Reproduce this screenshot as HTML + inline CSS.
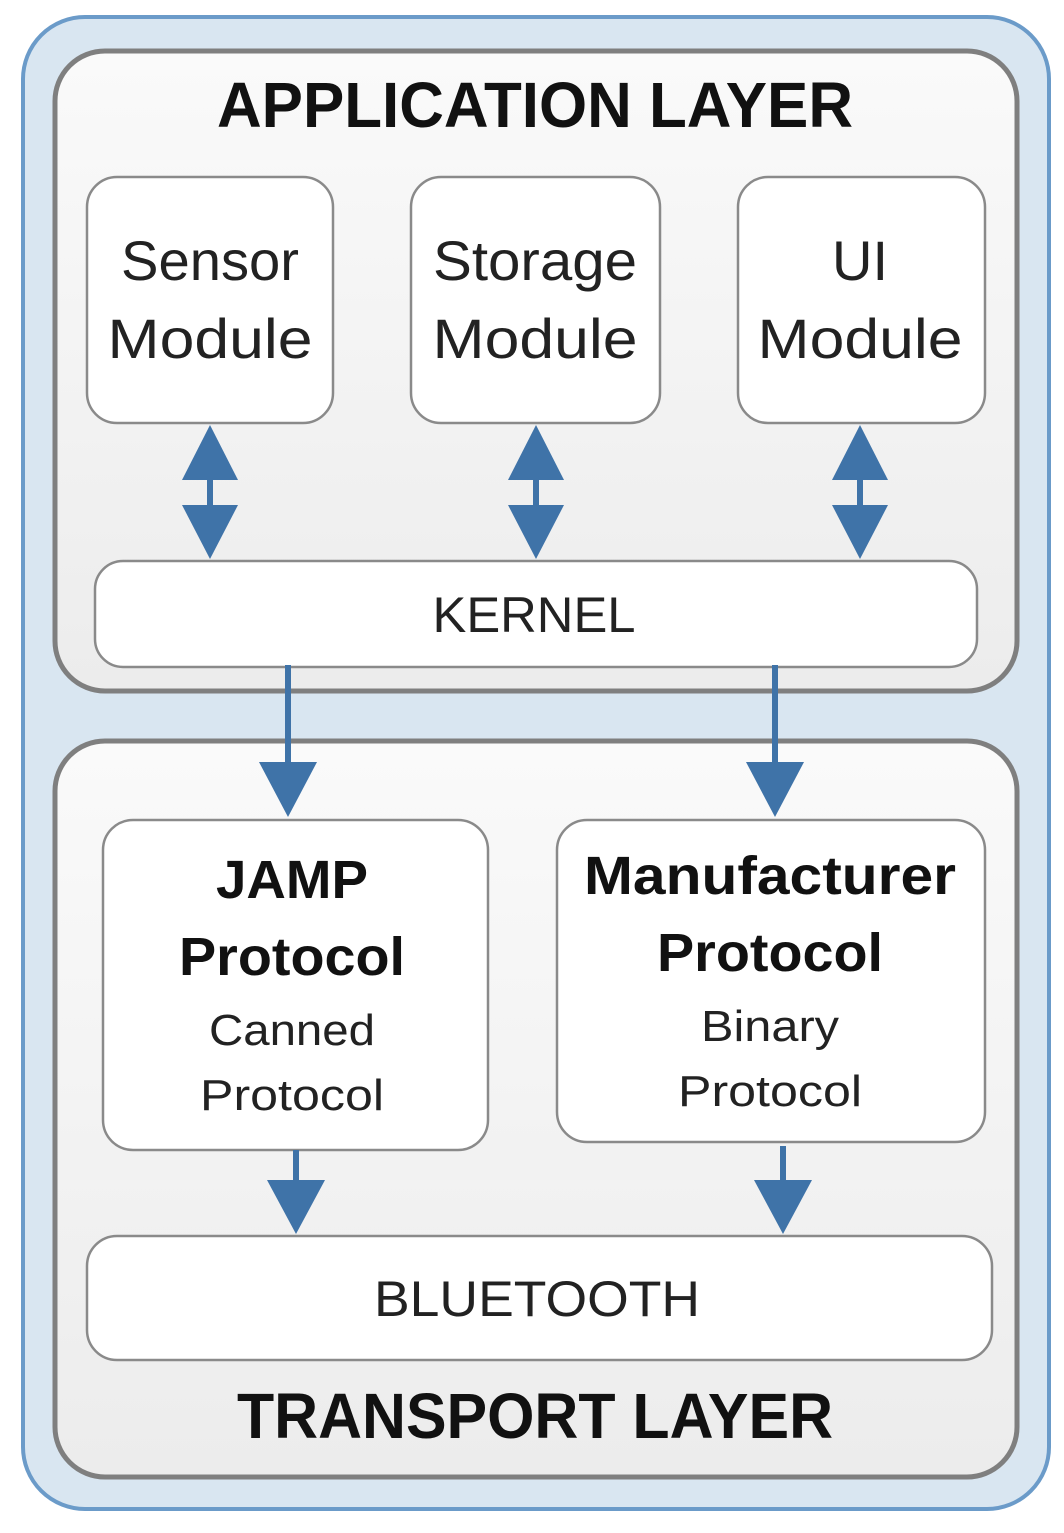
<!DOCTYPE html>
<html><head><style>body{margin:0;background:#fff}svg{display:block}</style></head><body>
<svg width="1064" height="1533" viewBox="0 0 1064 1533" xmlns="http://www.w3.org/2000/svg" font-family="Liberation Sans, sans-serif">
<defs>
<linearGradient id="g" x1="0" y1="0" x2="0" y2="1"><stop offset="0" stop-color="#fafafa"/><stop offset="1" stop-color="#ececec"/></linearGradient>
</defs>
<rect x="23" y="17" width="1026" height="1492" rx="62" fill="#d9e6f1" stroke="#6b9bc9" stroke-width="4"/>
<rect x="55" y="51" width="962" height="640" rx="50" fill="url(#g)" stroke="#7f7f7f" stroke-width="5"/>
<rect x="55" y="741" width="962" height="736" rx="50" fill="url(#g)" stroke="#7f7f7f" stroke-width="5"/>
<g font-weight="bold" fill="#111">
<text x="535" y="127" font-size="64" text-anchor="middle" textLength="636" lengthAdjust="spacingAndGlyphs">APPLICATION LAYER</text>
<text x="535" y="1438" font-size="64" text-anchor="middle" textLength="596" lengthAdjust="spacingAndGlyphs">TRANSPORT LAYER</text>
</g>
<g fill="#fff" stroke="#8a8a8a" stroke-width="2.5">
<rect x="87" y="177" width="246" height="246" rx="30"/>
<rect x="411" y="177" width="249" height="246" rx="30"/>
<rect x="738" y="177" width="247" height="246" rx="30"/>
<rect x="95" y="561" width="882" height="106" rx="28"/>
<rect x="103" y="820" width="385" height="330" rx="30"/>
<rect x="557" y="820" width="428" height="322" rx="30"/>
<rect x="87" y="1236" width="905" height="124" rx="30"/>
</g>
<g fill="#222" font-size="56" text-anchor="middle">
<text x="210" y="280" textLength="178" lengthAdjust="spacingAndGlyphs">Sensor</text>
<text x="210" y="358" textLength="205" lengthAdjust="spacingAndGlyphs">Module</text>
<text x="535" y="280" textLength="204" lengthAdjust="spacingAndGlyphs">Storage</text>
<text x="535" y="358" textLength="205" lengthAdjust="spacingAndGlyphs">Module</text>
<text x="860" y="280" textLength="56" lengthAdjust="spacingAndGlyphs">UI</text>
<text x="860" y="358" textLength="205" lengthAdjust="spacingAndGlyphs">Module</text>
<text x="534" y="632" font-size="50" textLength="203" lengthAdjust="spacingAndGlyphs">KERNEL</text>
<text x="537" y="1316" font-size="50" textLength="326" lengthAdjust="spacingAndGlyphs">BLUETOOTH</text>
</g>
<g fill="#111" font-weight="bold" font-size="54" text-anchor="middle">
<text x="292" y="898" textLength="152" lengthAdjust="spacingAndGlyphs">JAMP</text>
<text x="292" y="975" textLength="226" lengthAdjust="spacingAndGlyphs">Protocol</text>
<text x="770" y="894" textLength="372" lengthAdjust="spacingAndGlyphs">Manufacturer</text>
<text x="770" y="971" textLength="226" lengthAdjust="spacingAndGlyphs">Protocol</text>
</g>
<g fill="#222" font-size="44" text-anchor="middle">
<text x="292" y="1045" textLength="166" lengthAdjust="spacingAndGlyphs">Canned</text>
<text x="292" y="1110" textLength="184" lengthAdjust="spacingAndGlyphs">Protocol</text>
<text x="770" y="1041" textLength="138" lengthAdjust="spacingAndGlyphs">Binary</text>
<text x="770" y="1106" textLength="184" lengthAdjust="spacingAndGlyphs">Protocol</text>
</g>
<g fill="#3f73a8" stroke="#3f73a8">
<g stroke-width="6">
<line x1="210" y1="470" x2="210" y2="515"/><line x1="536" y1="470" x2="536" y2="515"/><line x1="860" y1="470" x2="860" y2="515"/>
<line x1="288" y1="665" x2="288" y2="770"/><line x1="775" y1="665" x2="775" y2="770"/>
<line x1="296" y1="1150" x2="296" y2="1185"/><line x1="783" y1="1146" x2="783" y2="1185"/>
</g>
<g stroke="none">
<polygon points="210,425 182,480 238,480"/><polygon points="210,559 182,505 238,505"/>
<polygon points="536,425 508,480 564,480"/><polygon points="536,559 508,505 564,505"/>
<polygon points="860,425 832,480 888,480"/><polygon points="860,559 832,505 888,505"/>
<polygon points="288,817 259,762 317,762"/><polygon points="775,817 746,762 804,762"/>
<polygon points="296,1234 267,1180 325,1180"/><polygon points="783,1234 754,1180 812,1180"/>
</g>
</g>
</svg>
</body></html>
